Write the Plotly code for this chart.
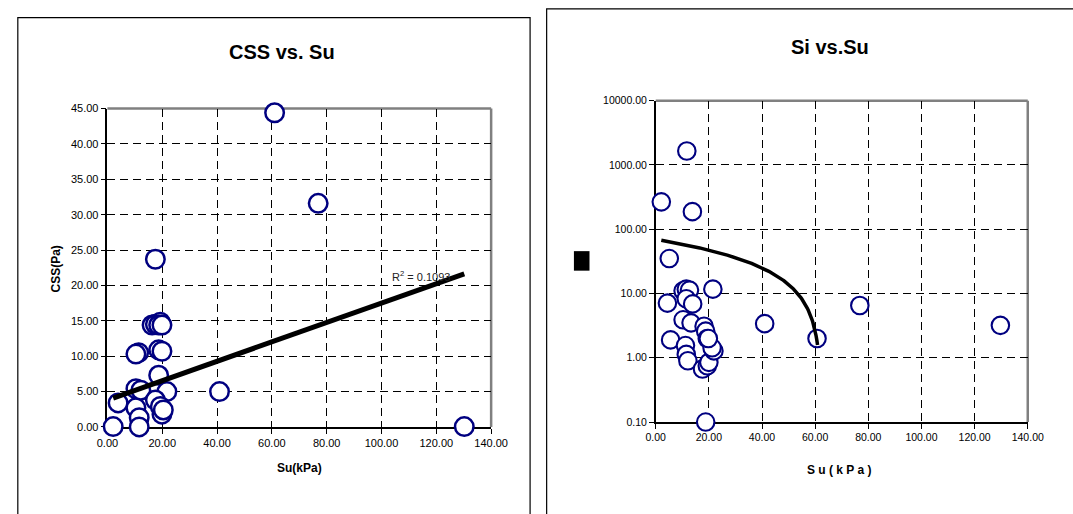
import numpy as np
import plotly.graph_objects as go

W, H = 1073, 514

# ---------------- data ----------------
# Left chart: CSS vs. Su
su_css = [61.0, 76.9, 17.5, 130.2, 40.9, 2.1, 3.9, 10.4, 11.4, 10.4, 18.7, 19.9,
          18.7, 21.7, 10.4, 12.2, 17.5, 19.3, 19.9, 20.4, 11.6, 11.6,
          16.3, 17.5, 19.3, 18.7, 19.9]
css = [44.4, 31.6, 23.7, 0.05, 5.0, 0.05, 3.4, 2.7, 10.5, 10.3, 10.9, 10.7,
       7.3, 5.0, 5.4, 5.2, 3.8, 2.9, 1.8, 2.4, 1.3, 0.0,
       14.4, 14.5, 14.8, 14.4, 14.4]
css_trend_slope = 0.137
css_trend_intercept = 3.8
css_r2_text = "R<sup>2</sup> = 0.1093"

# Right chart: Si vs. Su
su_si = [11.7, 2.1, 13.8, 5.1, 4.4, 10.3, 11.5, 12.7, 21.5, 11.5, 13.9, 10.3,
         13.3, 18.2, 18.8, 19.4, 5.6, 11.2, 11.5, 12.1, 17.6, 19.4, 20.0,
         21.9, 21.2, 18.8, 41.0, 76.8, 60.7, 129.7, 19.8]
si = [1650, 267, 188, 35, 7.1, 11.0, 11.7, 11.3, 11.7, 8.3, 6.9, 3.9,
      3.5, 3.1, 2.6, 2.0, 1.9, 1.55, 1.13, 0.9, 0.67, 0.75, 0.85,
      1.28, 1.43, 0.10, 3.4, 6.5, 2.0, 3.2, 2.0]
si_trend_slope = -1.121
si_trend_intercept = 69.85
si_trend_end = 60.9

x_ticks = [0, 20, 40, 60, 80, 100, 120, 140]
x_tick_text = ["0.00", "20.00", "40.00", "60.00", "80.00", "100.00", "120.00", "140.00"]
css_ticks = [0, 5, 10, 15, 20, 25, 30, 35, 40, 45]
css_tick_text = ["0.00", "5.00", "10.00", "15.00", "20.00", "25.00", "30.00", "35.00", "40.00", "45.00"]
si_ticks = [0.1, 1, 10, 100, 1000, 10000]
si_tick_text = ["0.10", "1.00", "10.00", "100.00", "1000.00", "10000.00"]

# ---------------- helpers ----------------
def px_x(X):
    return X / W

def px_y(Y):
    return 1 - Y / H

FONT = "Arial, Liberation Sans, sans-serif"
NAVY = "#000080"

fig = go.Figure()

# Left scatter
fig.add_trace(go.Scatter(
    x=su_css, y=css, mode="markers", xaxis="x", yaxis="y",
    marker=dict(symbol="circle", size=18.5, color="white",
                line=dict(color=NAVY, width=2.5)),
    cliponaxis=False, hoverinfo="skip"))
tx = np.linspace(min(su_css), max(su_css), 50)
fig.add_trace(go.Scatter(
    x=tx, y=css_trend_intercept + css_trend_slope * tx, mode="lines",
    xaxis="x", yaxis="y", line=dict(color="black", width=5), cliponaxis=False,
    hoverinfo="skip"))

# Right scatter
fig.add_trace(go.Scatter(
    x=su_si, y=si, mode="markers", xaxis="x2", yaxis="y2",
    marker=dict(symbol="circle", size=17.5, color="white",
                line=dict(color=NAVY, width=2.1)),
    cliponaxis=False, hoverinfo="skip"))
tx2 = np.linspace(min(su_si), si_trend_end, 200)
fig.add_trace(go.Scatter(
    x=tx2, y=si_trend_intercept + si_trend_slope * tx2, mode="lines",
    xaxis="x2", yaxis="y2", line=dict(color="black", width=3.5), cliponaxis=False,
    hoverinfo="skip"))

# axes domains (pixel derived)
L_x = [px_x(99), px_x(493)]
L_y = [px_y(431), px_y(105)]
R_x = [px_x(662), px_x(1044)]
R_y = [px_y(426), px_y(97)]

common = dict(showgrid=True, gridcolor="black", gridwidth=1, griddash="8px,5px",
              zeroline=False, showline=True, linecolor="black", linewidth=1.5,
              ticks="outside", ticklen=5, tickcolor="black", tickwidth=1,
              layer="below traces")

fig.update_layout(
    width=W, height=H, margin=dict(l=0, r=0, t=0, b=0),
    paper_bgcolor="white", plot_bgcolor="white", showlegend=False,
    xaxis=dict(domain=L_x, range=[0, 140], anchor="y", tickvals=x_ticks,
               ticktext=x_tick_text, tickfont=dict(family=FONT, size=11, color="black"),
               **common),
    yaxis=dict(domain=L_y, range=[0, 45], anchor="x", tickvals=css_ticks,
               ticktext=css_tick_text, tickfont=dict(family=FONT, size=11, color="black"),
               **common),
    xaxis2=dict(domain=R_x, range=[0, 140], anchor="y2", tickvals=x_ticks,
                ticktext=x_tick_text, tickfont=dict(family=FONT, size=10.5, color="black"),
                **common),
    yaxis2=dict(domain=R_y, type="log", range=[-1, 4], anchor="x2", tickvals=si_ticks,
                ticktext=si_tick_text, tickfont=dict(family=FONT, size=10.5, color="black"),
                **common),
)

shapes = []
# plot area frames (gray top/right)
for dx, dy in [(L_x, L_y), (R_x, R_y)]:
    shapes.append(dict(type="line", xref="paper", yref="paper", x0=dx[0], x1=dx[1],
                       y0=dy[1], y1=dy[1], line=dict(color="#808080", width=2.5),
                       layer="between"))
    shapes.append(dict(type="line", xref="paper", yref="paper", x0=dx[1], x1=dx[1],
                       y0=dy[0], y1=dy[1], line=dict(color="#808080", width=2.5),
                       layer="between"))
# panel borders
shapes.append(dict(type="rect", xref="paper", yref="paper", x0=px_x(7), x1=px_x(533),
                   y0=-0.05, y1=px_y(12), line=dict(color="black", width=1.2),
                   fillcolor="rgba(0,0,0,0)", layer="below"))
shapes.append(dict(type="rect", xref="paper", yref="paper", x0=px_x(550), x1=1.05,
                   y0=-0.05, y1=px_y(3), line=dict(color="black", width=1.2),
                   fillcolor="rgba(0,0,0,0)", layer="below"))
# black square (unrendered y-axis label glyph)
shapes.append(dict(type="rect", xref="paper", yref="paper", x0=px_x(578), x1=px_x(594),
                   y0=px_y(271), y1=px_y(251), line=dict(width=0), fillcolor="black"))
fig.update_layout(shapes=shapes)

ann = [
    dict(text="<b>CSS vs. Su</b>", x=px_x(278), y=px_y(47), font=dict(size=20)),
    dict(text="<b>Si vs.Su</b>", x=px_x(841), y=px_y(42), font=dict(size=20)),
    dict(text="<b>Su(kPa)</b>", x=px_x(296), y=px_y(473), font=dict(size=12)),
    dict(text="<b>CSS(Pa)</b>", x=px_x(46), y=px_y(269), font=dict(size=12), textangle=-90),
    dict(text="<b>S u ( k P a )</b>", x=px_x(850), y=px_y(475), font=dict(size=12)),
    dict(text=css_r2_text, x=px_x(421), y=px_y(276), font=dict(size=11, color="#222")),
]
for a in ann:
    a.update(xref="paper", yref="paper", showarrow=False, xanchor="center", yanchor="middle")
    a["font"] = dict(family=FONT, color=a["font"].get("color", "black"), size=a["font"]["size"])
fig.update_layout(annotations=ann)

fig.write_html("out.html")
